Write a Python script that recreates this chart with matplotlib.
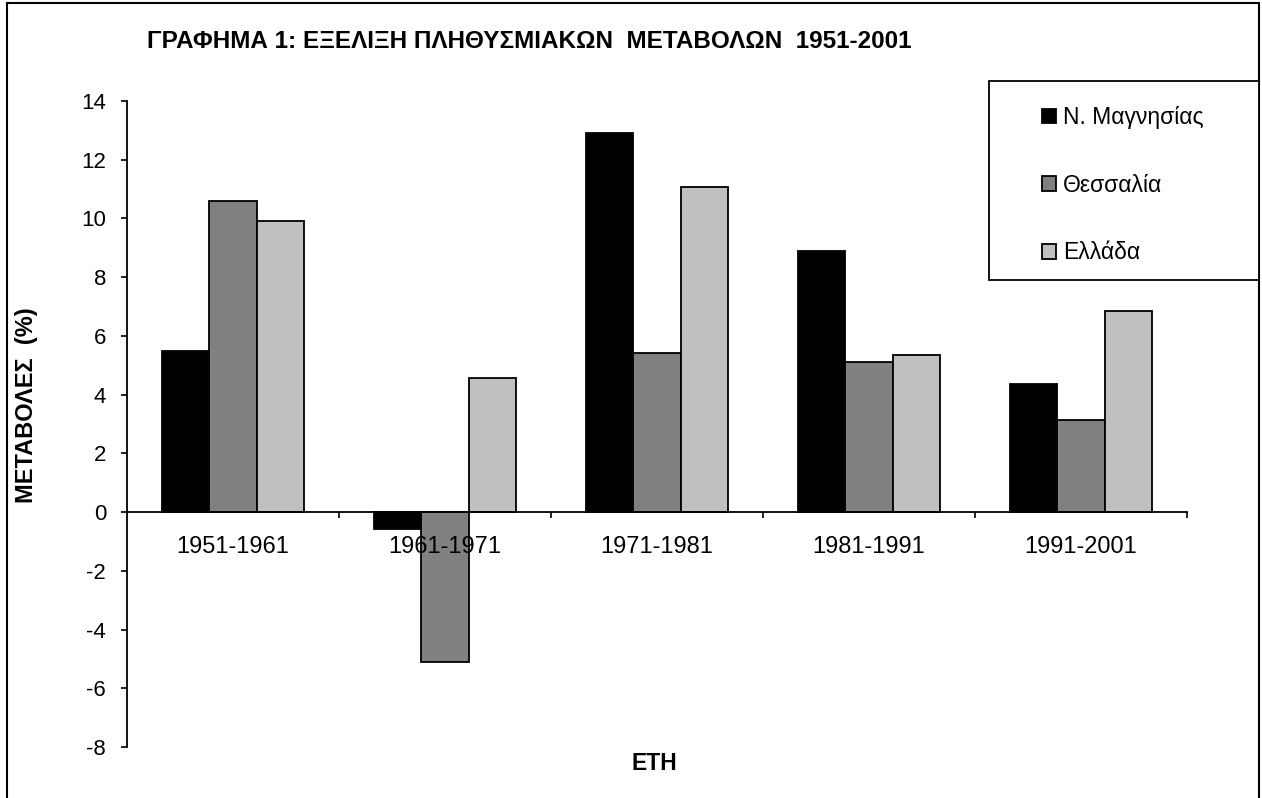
import numpy as np
import matplotlib
matplotlib.use("Agg")
import matplotlib.pyplot as plt
from matplotlib.patches import Rectangle

plt.rcParams['font.family'] = ['Liberation Sans', 'DejaVu Sans']
plt.rcParams['axes.unicode_minus'] = False

# data
periods = ["1951-1961", "1961-1971", "1971-1981", "1981-1991", "1991-2001"]
magnisia = [5.5, -0.58, 12.9, 8.9, 4.35]
thessalia = [10.6, -5.1, 5.42, 5.1, 3.12]
ellada = [9.9, 4.55, 11.07, 5.36, 6.86]
series_names = ["Ν. Μαγνησίας", "Θεσσαλία", "Ελλάδα"]
colors = ["#000000", "#808080", "#c0c0c0"]

W, H = 1262, 798
fig = plt.figure(figsize=(W / 100, H / 100), dpi=100)
ax = fig.add_axes([127 / W, 1 - 747 / H, (1187 - 127) / W, (747 - 101) / H])
ax.set_axisbelow(False)

x = np.arange(len(periods))
w = 0.222
handles = []
for i, (vals, name, c) in enumerate(zip([magnisia, thessalia, ellada], series_names, colors)):
    b = ax.bar(x + (i - 1) * w, vals, width=w, color=c, edgecolor="black",
               linewidth=1.3, label=name, zorder=2)
    handles.append(b)

ax.set_xlim(-0.5, len(periods) - 0.5)
ax.set_ylim(-8, 14)
ax.set_yticks(np.arange(-8, 15, 2))
ax.set_xticks(x)
ax.set_xticklabels(periods)
ax.set_xticks(np.arange(0.5, len(periods), 1), minor=True)
ax.tick_params(axis="x", which="major", length=0, pad=17, labelsize=17)
ax.tick_params(axis="x", which="minor", length=4, width=1.2, direction="out")
ax.tick_params(axis="y", length=4, width=1.2, labelsize=16, pad=11)

ax.spines["top"].set_visible(False)
ax.spines["right"].set_visible(False)
ax.spines["bottom"].set_position(("data", 0))
ax.spines["left"].set_linewidth(1.3)
ax.spines["bottom"].set_linewidth(1.3)
ax.spines["bottom"].set_zorder(3)

fig.text(147 / W, 1 - 41 / H, "ΓΡΑΦΗΜΑ 1: ΕΞΕΛΙΞΗ ΠΛΗΘΥΣΜΙΑΚΩΝ  ΜΕΤΑΒΟΛΩΝ  1951-2001",
         fontsize=17.5, fontweight="bold", ha="left", va="center")
fig.text(27 / W, 1 - 405 / H, "ΜΕΤΑΒΟΛΕΣ  (%)", rotation=90, fontsize=17,
         fontweight="bold", ha="center", va="center")
fig.text(654 / W, 1 - 764 / H, "ΕΤΗ", fontsize=16.5, fontweight="bold",
         ha="center", va="center")

# legend box
fig.patches.append(Rectangle((989 / W, 1 - 280 / H), (1259 - 989) / W, (280 - 81) / H,
                             transform=fig.transFigure, facecolor="white",
                             edgecolor="black", linewidth=1.3, zorder=5))
leg = fig.legend(handles, series_names, loc="upper left",
                 bbox_to_anchor=(1042 / W, 1 - 106 / H),
                 frameon=False, fontsize=16.5,
                 handlelength=0.62, handleheight=0.62, handletextpad=0.3,
                 labelspacing=1.95, borderaxespad=0, borderpad=0)
leg.set_zorder(6)

# outer border of the chart area
fig.patches.append(Rectangle((7 / W, -0.05), (1259 - 7) / W, 1.05 - 3 / H,
                             transform=fig.transFigure, fill=False,
                             edgecolor="black", linewidth=1.5, zorder=4))

fig.savefig("out.png", dpi=100)
